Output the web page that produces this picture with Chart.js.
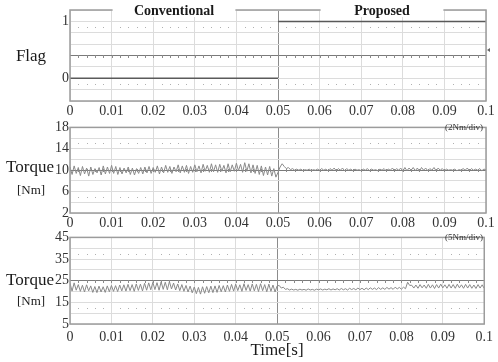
<!DOCTYPE html>
<html>
<head>
<meta charset="utf-8">
<script src="https://cdn.jsdelivr.net/npm/chart.js@4.4.1/dist/chart.umd.min.js"></script>
<style>
  body { margin: 0; background: #fff; }
  #wrap { position: relative; width: 498px; height: 362px; overflow: hidden; }
  canvas { position: absolute; left: 0; }
</style>
</head>
<body>
<div id="wrap">
  <canvas id="flag-chart" width="498" height="118" style="top:0"></canvas>
  <canvas id="tq1-chart" width="498" height="110" style="top:118px"></canvas>
  <canvas id="tq2-chart" width="498" height="134" style="top:228px"></canvas>
</div>
<script>
// 取樣間隔 (s)
const dt = 0.0005;
const xTicks = [0, 0.01, 0.02, 0.03, 0.04, 0.05, 0.06, 0.07, 0.08, 0.09, 0.1];

// Flag (切換點不畫垂直線)
const flagTimes = [0, 0.05, 0.05, 0.05, 0.1];
const flagValues = [0, 0, null, 1, 1];
const flagLabels = [0, 1];

// Torque 1 (2Nm/div), 0~0.05 conventional, 0.0505~0.1 proposed
const tq1Conv = [
  10.6, 9.2, 10.8, 9.4, 10.5, 9.0, 10.7, 9.3, 10.4, 8.9,
  10.6, 9.2, 10.3, 9.5, 10.5, 9.1, 10.8, 9.3, 10.6, 9.4,
  10.9, 9.4, 10.7, 9.2, 10.5, 9.3, 10.4, 9.5, 10.6, 9.2,
  10.4, 9.1, 10.3, 9.4, 10.5, 9.3, 10.6, 9.5, 10.7, 9.4,
  10.5, 9.6, 10.8, 9.3, 10.6, 9.5, 10.9, 9.6, 10.7, 9.4,
  10.6, 9.7, 11.0, 9.5, 10.8, 9.6, 10.9, 9.4, 10.7, 9.6,
  11.0, 9.7, 10.8, 9.5, 11.1, 9.8, 10.9, 9.6, 11.2, 9.7,
  11.0, 9.6, 11.1, 9.8, 10.9, 9.5, 11.2, 9.7, 11.0, 9.8,
  11.3, 9.9, 11.1, 9.6, 11.4, 9.8, 11.2, 9.5, 11.0, 9.4,
  10.9, 9.2, 10.8, 9.0, 10.6, 9.1, 10.7, 8.9, 10.3, 8.7,
  9.6
];
const tq1Prop = [
  10.6, 11.2, 10.7, 10.3, 10.5, 10.1, 10.3, 10.0, 10.2, 10.0,
  10.2, 9.9, 10.1, 10.0, 10.2, 9.9, 10.1, 10.0, 10.2, 10.0,
  10.3, 10.0, 10.2, 9.9, 10.3, 10.0, 10.4, 9.9, 10.3, 10.0,
  10.4, 9.9, 10.3, 10.0, 10.2, 9.9, 10.2, 10.0, 10.1, 9.9,
  10.2, 10.0, 10.3, 9.9, 10.2, 10.0, 10.1, 9.9, 10.2, 10.0,
  10.3, 9.9, 10.2, 10.0, 10.4, 9.9, 10.3, 10.0, 10.4, 9.8,
  10.5, 9.9, 10.4, 10.0, 10.5, 9.9, 10.4, 9.8, 10.5, 10.0,
  10.4, 9.9, 10.3, 10.0, 10.5, 9.9, 10.4, 10.0, 10.3, 9.9,
  10.2, 10.0, 10.1, 10.0, 10.2, 9.9, 10.1, 10.0, 10.3, 10.0,
  10.4, 9.9, 10.3, 10.0, 10.2, 10.0, 10.3, 9.9, 10.2, 10.1
];
const tq1Labels = [2, 6, 10, 14, 18];

// Torque 2 (5Nm/div)
const tq2Conv = [
  23.8, 20.2, 24.0, 20.6, 23.2, 20.1, 22.9, 19.8, 23.1, 20.3,
  22.6, 19.6, 22.3, 19.5, 22.5, 19.8, 22.2, 19.6, 22.6, 19.9,
  22.8, 20.1, 22.7, 20.0, 23.0, 20.3, 23.1, 20.2, 23.3, 20.4,
  23.2, 20.1, 23.5, 20.5, 23.4, 20.3, 23.8, 20.6, 24.0, 20.8,
  24.2, 20.9, 24.1, 20.6, 24.5, 21.0, 24.3, 20.8, 24.6, 21.2,
  23.9, 20.7, 23.5, 20.4, 23.2, 20.1, 22.8, 19.8, 22.5, 19.4,
  22.1, 19.0, 21.9, 18.8, 22.2, 19.2, 22.3, 19.4, 22.5, 19.5,
  22.6, 19.6, 22.8, 19.9, 22.7, 19.8, 23.0, 20.1, 23.3, 20.2,
  23.4, 20.4, 23.1, 20.1, 23.6, 20.5, 23.2, 20.2, 23.5, 20.3,
  23.3, 20.0, 23.6, 20.4, 23.2, 19.9, 23.4, 20.1, 23.0, 19.8,
  22.6
];
const tq2Prop = [
  22.8, 21.6, 22.0, 21.0, 21.3, 20.7, 21.1, 20.7, 21.0, 20.6,
  21.1, 20.7, 21.0, 20.6, 21.2, 20.7, 21.0, 20.6, 21.1, 20.8,
  21.2, 20.7, 21.1, 20.8, 21.3, 20.7, 21.2, 20.8, 21.3, 20.7,
  21.4, 20.8, 21.3, 20.7, 21.5, 20.9, 21.4, 20.8, 21.6, 20.9,
  21.5, 20.8, 21.6, 20.9, 21.7, 21.0, 21.6, 20.9, 21.8, 21.0,
  21.7, 21.0, 21.9, 21.1, 21.8, 21.0, 22.0, 21.2, 21.9, 21.1,
  22.0, 21.3, 24.3, 22.8, 22.9, 21.6, 23.0, 21.5, 23.2, 21.7,
  23.0, 21.5, 23.3, 21.6, 23.1, 21.4, 23.2, 21.6, 23.4, 21.7,
  23.1, 21.5, 23.3, 21.6, 23.2, 21.5, 23.4, 21.7, 23.1, 21.5,
  23.3, 21.6, 23.2, 21.5, 23.0, 21.4, 23.2, 21.6, 23.1, 21.4
];
const tq2Labels = [5, 15, 25, 35, 45];

const SERIF = '"Liberation Serif", "DejaVu Serif", serif';
const AREA_LEFT = 70;
const AREA_RIGHT = 486;

function toPoints(values, t0) {
  return values.map((v, i) => ({ x: t0 + i * dt, y: v }));
}

function near(a, b) {
  return Math.abs(a - b) < 1e-6;
}

// 示波器風格裝飾：外框、中心線刻度、點狀列、文字
const scopeDecor = {
  id: 'scopeDecor',
  afterDatasetsDraw(chart, args, opts) {
    const ctx = chart.ctx;
    const area = chart.chartArea;
    const xs = chart.scales.x;
    const ys = chart.scales.y;
    ctx.save();

    // 點狀列
    ctx.fillStyle = '#b0b0b0';
    opts.dotRows.forEach(v => {
      const py = Math.round(ys.getPixelForValue(v));
      for (let k = 1; k < 50; k++) {
        if (k % 5 === 0) continue;
        const px = Math.round(xs.getPixelForValue(k * 0.002));
        ctx.fillRect(px, py, 1, 1);
      }
    });

    // 中心線刻度
    const cy = Math.round(ys.getPixelForValue(opts.center)) + 0.5;
    ctx.strokeStyle = '#8a8a8a';
    ctx.lineWidth = 1;
    ctx.beginPath();
    for (let k = 1; k < 50; k++) {
      const px = Math.round(xs.getPixelForValue(k * 0.002)) + 0.5;
      ctx.moveTo(px, cy - 1.5);
      ctx.lineTo(px, cy + 1.5);
    }
    ctx.stroke();

    // 外框
    ctx.strokeStyle = '#9c9c9c';
    ctx.lineWidth = 1.5;
    ctx.strokeRect(area.left, area.top, area.right - area.left, area.bottom - area.top);

    // 標題 (白底遮住上框)
    (opts.titles || []).forEach(t => {
      const x0 = xs.getPixelForValue(t.from);
      const x1 = xs.getPixelForValue(t.to);
      ctx.fillStyle = '#ffffff';
      ctx.fillRect(x0 + 1, 0, x1 - x0 - 2, area.top + 7);
      ctx.fillStyle = '#1a1a1a';
      ctx.font = 'bold 14px ' + SERIF;
      ctx.textAlign = 'center';
      ctx.textBaseline = 'middle';
      ctx.fillText(t.text, (x0 + x1) / 2, 11);
    });

    // 文字
    (opts.texts || []).forEach(t => {
      ctx.fillStyle = t.color || '#1a1a1a';
      ctx.font = t.font;
      ctx.textAlign = t.align || 'center';
      ctx.textBaseline = 'middle';
      ctx.fillText(t.text, t.x, t.y);
    });

    if (opts.marker) {
      ctx.fillStyle = '#666666';
      ctx.beginPath();
      ctx.moveTo(opts.marker.x, opts.marker.y);
      ctx.lineTo(opts.marker.x + 3, opts.marker.y - 2);
      ctx.lineTo(opts.marker.x + 3, opts.marker.y + 2);
      ctx.closePath();
      ctx.fill();
    }
    ctx.restore();
  }
};

function makeChart(canvasId, cfg) {
  const canvas = document.getElementById(canvasId);
  return new Chart(canvas, {
    type: 'line',
    data: { datasets: cfg.datasets },
    options: {
      responsive: false,
      animation: false,
      devicePixelRatio: 1,
      layout: { padding: { top: cfg.areaTop, right: 498 - AREA_RIGHT, left: 0, bottom: 0 } },
      plugins: {
        legend: { display: false },
        tooltip: { enabled: false },
        scopeDecor: cfg.decor
      },
      elements: { point: { radius: 0 }, line: { tension: 0 } },
      scales: {
        x: {
          type: 'linear',
          min: 0,
          max: 0.1,
          afterBuildTicks: scale => { scale.ticks = xTicks.map(v => ({ value: v })); },
          afterFit: scale => { scale.height = cfg.xHeight; },
          ticks: {
            padding: cfg.xPad,
            color: '#333',
            font: { family: SERIF, size: 14 },
            maxRotation: 0,
            autoSkip: false,
            callback: v => (near(v, 0) ? '0' : near(v, 0.1) ? '0.1' : v.toFixed(2))
          },
          grid: {
            drawTicks: false,
            color: ctx => (ctx.tick && near(ctx.tick.value, 0.05) ? '#8c8c8c' : '#dcdcdc'),
            lineWidth: 1
          },
          border: { display: false }
        },
        y: {
          type: 'linear',
          min: cfg.yMin,
          max: cfg.yMax,
          afterBuildTicks: scale => {
            const ticks = [];
            for (let i = 0; i <= 8; i++) ticks.push({ value: cfg.yMin + i * cfg.yStep });
            scale.ticks = ticks;
          },
          afterFit: scale => { scale.width = AREA_LEFT; },
          ticks: {
            padding: 1,
            color: '#333',
            font: { family: SERIF, size: 14 },
            autoSkip: false,
            callback: v => {
              const hit = cfg.yLabels.find(l => near(l, v));
              return hit === undefined ? '' : String(hit);
            }
          },
          grid: {
            drawTicks: false,
            color: ctx => (ctx.tick && near(ctx.tick.value, cfg.decor.center) ? '#7a7a7a' : '#dcdcdc'),
            lineWidth: 1
          },
          border: { display: false }
        }
      }
    },
    plugins: [scopeDecor]
  });
}

// Flag
makeChart('flag-chart', {
  areaTop: 10, xHeight: 17, xPad: 2,
  yMin: -0.4, yMax: 1.2, yStep: 0.2, yLabels: flagLabels,
  datasets: [{
    data: flagTimes.map((t, i) => ({ x: t, y: flagValues[i] })),
    borderColor: '#5a5a5a',
    borderWidth: 1.5
  }],
  decor: {
    center: 0.4,
    dotRows: [0.9, -0.1],
    titles: [
      { text: 'Conventional', from: 0.01, to: 0.04 },
      { text: 'Proposed', from: 0.06, to: 0.09 }
    ],
    texts: [{ text: 'Flag', x: 31, y: 57, font: '17px ' + SERIF }],
    marker: { x: 487, y: 50 }
  }
});

// Torque 1
makeChart('tq1-chart', {
  areaTop: 4, xHeight: 15, xPad: 2,
  yMin: 2, yMax: 18, yStep: 2, yLabels: tq1Labels,
  datasets: [{
    data: toPoints(tq1Conv, 0).concat(toPoints(tq1Prop, 0.0505)),
    borderColor: '#8a8a8a',
    borderWidth: 1
  }],
  decor: {
    center: 10,
    dotRows: [15, 5],
    texts: [
      { text: 'Torque', x: 30, y: 50, font: '17px ' + SERIF },
      { text: '[Nm]', x: 31, y: 73, font: '13px ' + SERIF },
      { text: '(2Nm/div)', x: 483, y: 10, font: '9px ' + SERIF, align: 'right', color: '#333' }
    ]
  }
});

// Torque 2
makeChart('tq2-chart', {
  areaTop: 4, xHeight: 38, xPad: 5,
  yMin: 5, yMax: 45, yStep: 5, yLabels: tq2Labels,
  datasets: [{
    data: toPoints(tq2Conv, 0).concat(toPoints(tq2Prop, 0.0505)),
    borderColor: '#8a8a8a',
    borderWidth: 1
  }],
  decor: {
    center: 25,
    dotRows: [37.5, 12.5],
    texts: [
      { text: 'Torque', x: 30, y: 53, font: '17px ' + SERIF },
      { text: '[Nm]', x: 31, y: 74, font: '13px ' + SERIF },
      { text: '(5Nm/div)', x: 483, y: 10, font: '9px ' + SERIF, align: 'right', color: '#333' },
      { text: 'Time[s]', x: 277, y: 123, font: '17px ' + SERIF }
    ]
  }
});
</script>
</body>
</html>
